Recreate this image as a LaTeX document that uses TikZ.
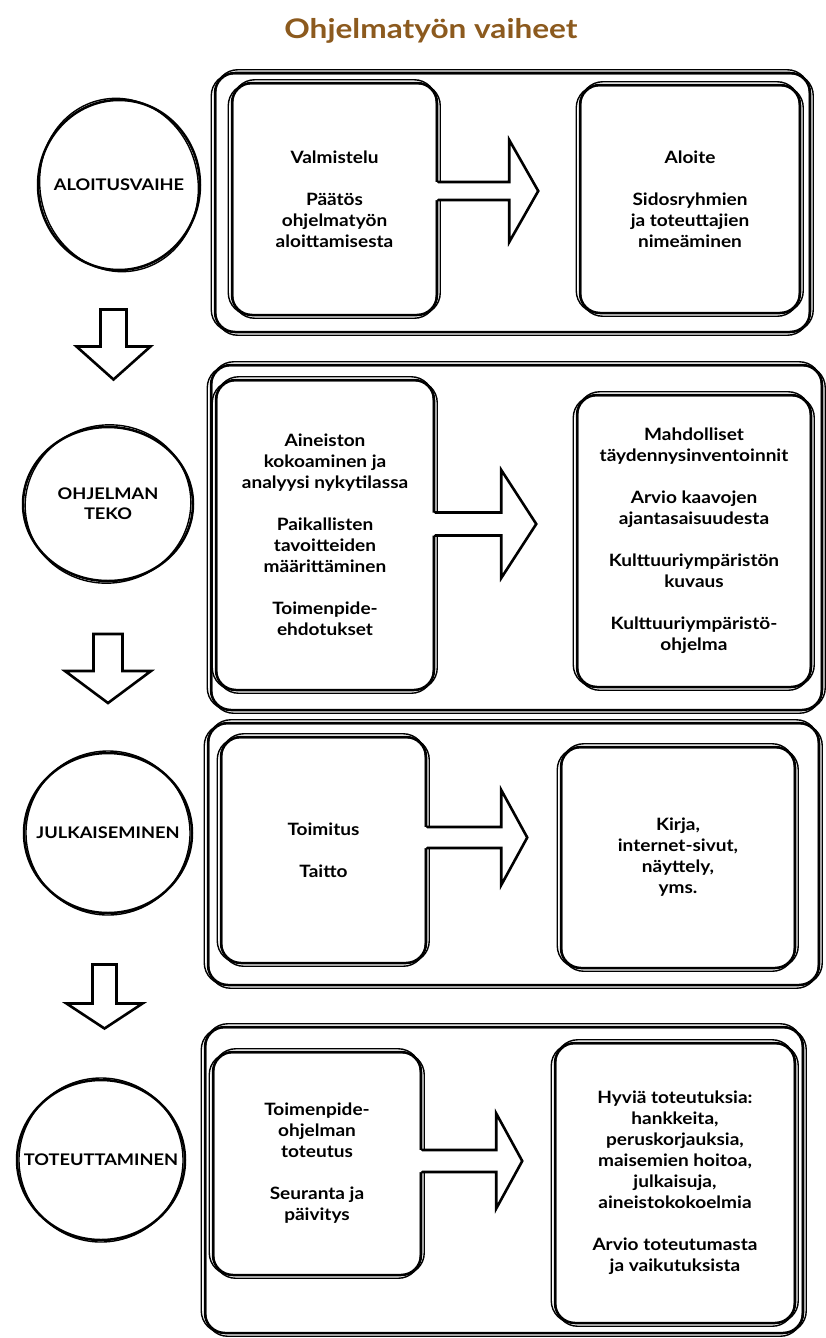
\documentclass[tikz,border=0pt]{standalone}
\usepackage{fontspec}
\setmainfont{Lato}
\newfontfamily\widefont[FakeStretch=1.17]{Lato}
\newfontfamily\capfont[FakeStretch=1.14]{Lato}
\newfontfamily\boxtextfont[FakeStretch=1.12]{Lato}
\usetikzlibrary{calc}
\definecolor{titlebrown}{RGB}{140,90,30}
\tikzset{
  sk/.style={line width=2.5pt, line cap=round, line join=round, rounded corners=20pt},
  sktwo/.style={line width=1.4pt, line cap=round, line join=round, rounded corners=22pt},
  box/.style={draw, sk, rectangle, align=center, inner sep=0pt,
    font=\boxtextfont\bfseries\fontsize{17}{21}\selectfont},
  obox/.style={draw, sk, rectangle, inner sep=0pt},
  clabel/.style={inner sep=0pt, align=center, font=\capfont\bfseries\fontsize{16}{20}\selectfont},
  arrowline/.style={line width=2.6pt, line cap=round, line join=miter},
}
% sketchy second strokes around a box node
\newcommand\sketchbox[1]{%
  \draw[sktwo] ($(#1.north west)+(-2.5,2)$) rectangle ($(#1.south east)+(2,-1.5)$);
  \draw[sktwo] ($(#1.north west)+(2,-2)$) rectangle ($(#1.south east)+(-2,2)$);}
% horizontal block arrow: node, y, shaft length, head length, shaft half, head half
\newcommand\hblock[6]{%
  \fill[white] (#1.east |- 0,#2) ++(-4,-#5) -- ++({#3+4},0) -- ++(0,{#5-#6}) -- ++(#4,#6)
     -- ++(-#4,#6) -- ++(0,{#5-#6}) -- ++({-#3-4},0) -- cycle;
  \draw[arrowline] (#1.east |- 0,#2) ++(0,-#5) -- ++(#3,0) -- ++(0,{#5-#6}) -- ++(#4,#6)
     -- ++(-#4,#6) -- ++(0,{#5-#6}) -- ++(-#3,0);}
% vertical block arrow between two circle nodes: A, B, shaft half, shaft len, head half, head len
\newcommand\vblock[6]{%
  \draw[arrowline] ($(#1)!0.5!(#2)$) ++({-#3},{-(#4+#6)/2}) -- ++({2*#3},0) -- ++(0,#4)
     -- ++({#5-#3},0) -- ++({-#5},#6) -- ++({-#5},{-#6}) -- ++({#5-#3},0) -- cycle;}
\begin{document}
\begin{tikzpicture}[x=1pt,y=-1pt]
\fill[white] (0,0) rectangle (826,1338);
\useasboundingbox (0,0) rectangle (826,1338);

\node[font=\widefont\bfseries\fontsize{27}{30}\selectfont, text=titlebrown] (T) at (431,31) {Ohjelmatyön vaiheet};

% ---------- row 1
\node[obox, minimum width=595, minimum height=259] (O1) at (512.5,202.5) {};
\sketchbox{O1}
\node[box, minimum width=205, minimum height=232] (L1) at (334.5,199)
  {Valmistelu\\[21pt]Päätös\\ohjelmatyön\\aloittamisesta};
\sketchbox{L1}
\node[box, minimum width=220, minimum height=228] (R1) at (690,199)
  {Aloite\\[21pt]Sidosryhmien\\ja toteuttajien\\nimeäminen};
\sketchbox{R1}
\hblock{L1}{191}{71}{29}{9}{51}

% ---------- row 2
\node[obox, minimum width=611, minimum height=345] (O2) at (516.5,537.5) {};
\sketchbox{O2}
\node[box, minimum width=218, minimum height=310] (L2) at (325,535)
  {Aineiston\\kokoaminen ja\\analyysi nykytilassa\\[21pt]Paikallisten\\tavoitteiden\\määrittäminen\\[21pt]Toimenpide-\\ehdotukset};
\sketchbox{L2}
\node[box, minimum width=234, minimum height=292] (R2) at (694,541)
  {Mahdolliset\\täydennysinventoinnit\\[21pt]Arvio kaavojen\\ajantasaisuudesta\\[21pt]Kulttuuriympäristön\\kuvaus\\[21pt]Kulttuuriympäristö-\\ohjelma};
\sketchbox{R2}
\hblock{L2}{524}{66}{35}{11.5}{54}

% ---------- row 3
\node[obox, minimum width=611, minimum height=262] (O3) at (513.5,854) {};
\sketchbox{O3}
\node[box, minimum width=205, minimum height=226] (L3) at (323.5,850)
  {Toimitus\\[21pt]Taitto};
\sketchbox{L3}
\node[box, minimum width=234, minimum height=221] (R3) at (678,857.5)
  {Kirja,\\internet-sivut,\\näyttely,\\yms.};
\sketchbox{R3}
\hblock{L3}{837.5}{74}{26}{10.5}{47.5}

% ---------- row 4
\node[obox, minimum width=598, minimum height=306] (O4) at (504,1180) {};
\sketchbox{O4}
\node[box, minimum width=208, minimum height=223] (L4) at (317,1163.5)
  {Toimenpide-\\ohjelman\\toteutus\\[21pt]Seuranta ja\\päivitys};
\sketchbox{L4}
\node[box, minimum width=240, minimum height=280] (R4) at (675,1183)
  {Hyviä toteutuksia:\\hankkeita,\\peruskorjauksia,\\maisemien hoitoa,\\julkaisuja,\\aineistokokoelmia\\[21pt]Arvio toteutumasta\\ja vaikutuksista};
\sketchbox{R4}
\hblock{L4}{1161}{74}{26}{11}{47.5}

% ---------- phase circles
\node[clabel] (C1) at (119,185) {ALOITUSVAIHE};
\node[clabel] (C2) at (108,504) {OHJELMAN\\TEKO};
\node[clabel] (C3) at (108,833) {JULKAISEMINEN};
\node[clabel] (C4) at (101,1160) {TOTEUTTAMINEN};
\foreach \c/\rx/\ry in {C1/81/85, C2/85/77, C3/84/80, C4/84/80}{
  \draw[sk] (\c) ellipse [x radius=\rx, y radius=\ry];
  \draw[sktwo, rotate around={12:(\c)}] (\c) ellipse [x radius=\rx-2, y radius=\ry+2];
}

% ---------- down arrows between phases
\vblock{C1}{C2}{13}{37}{37}{33}
\vblock{C2}{C3}{14.5}{37}{43}{32}
\vblock{C3}{C4}{12}{39}{38}{25}
\end{tikzpicture}
\end{document}
